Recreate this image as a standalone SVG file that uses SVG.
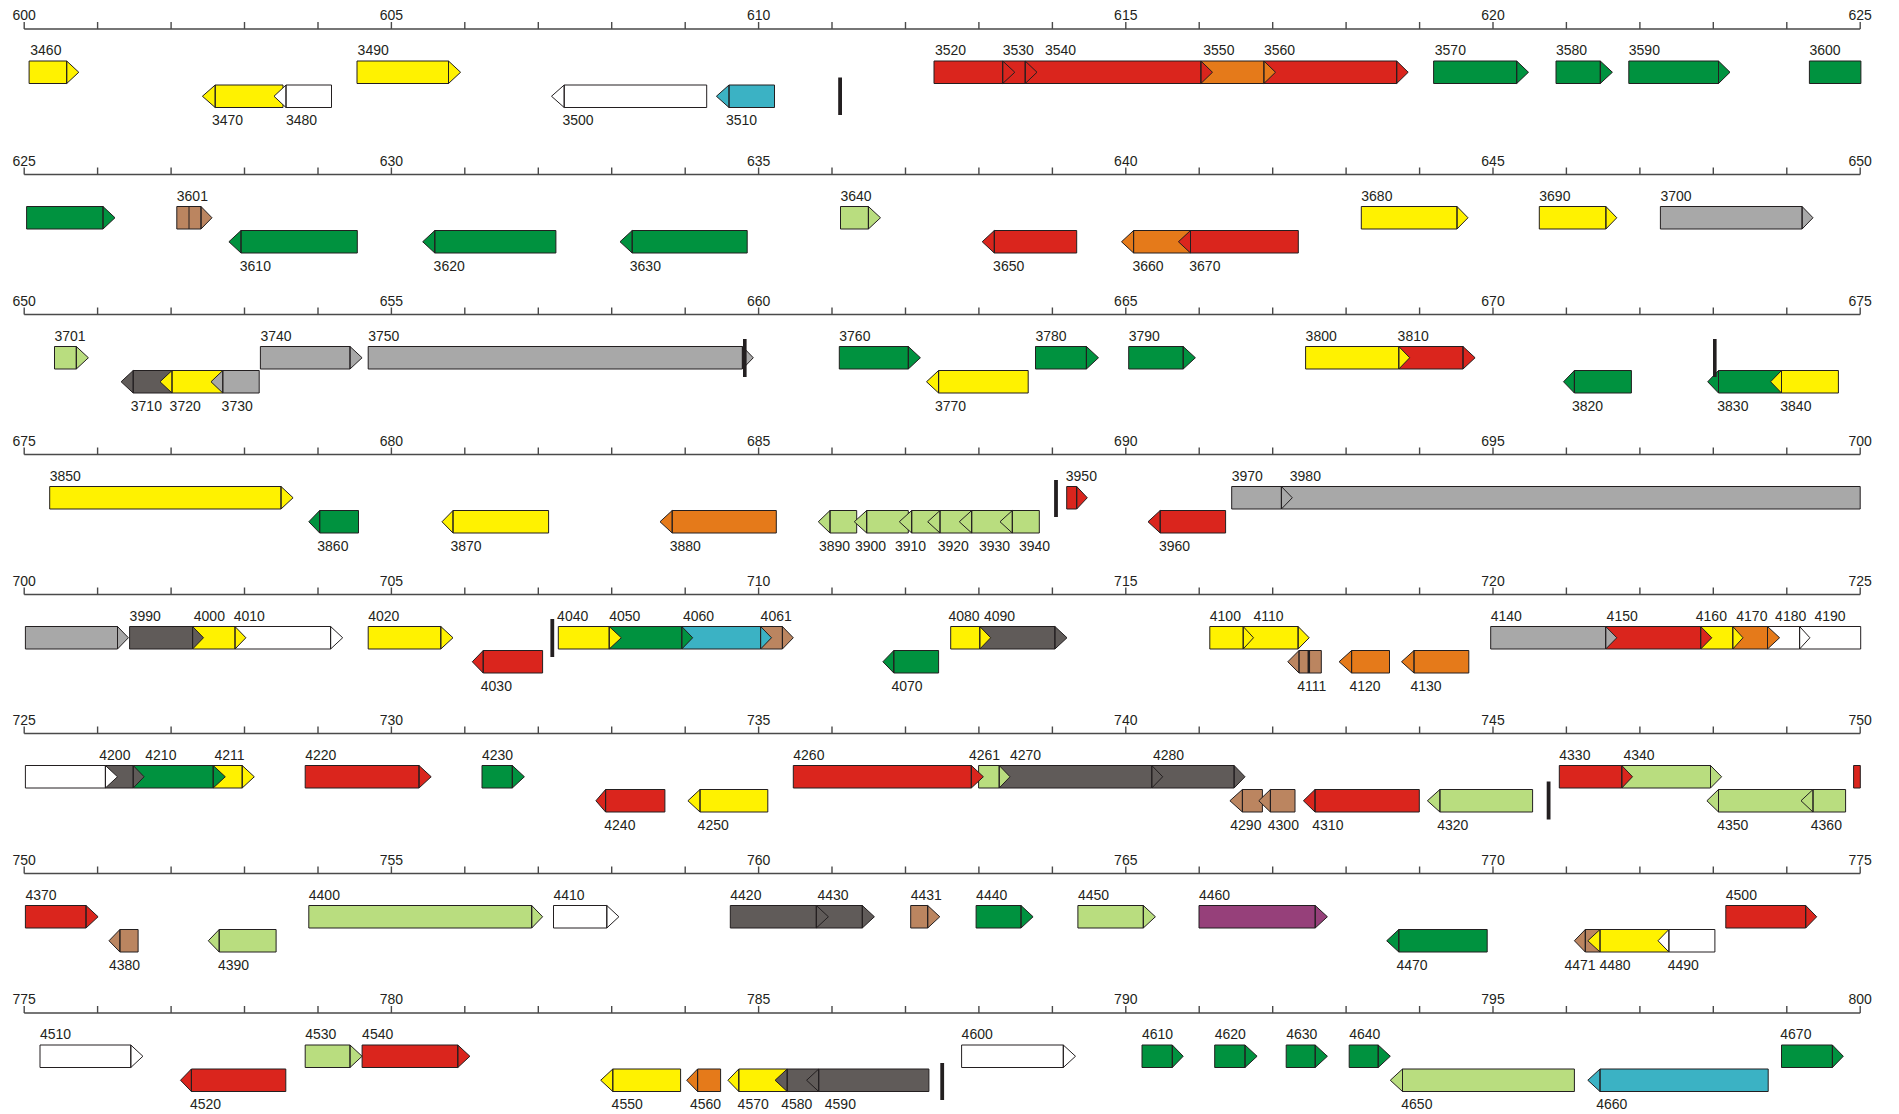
<svg xmlns="http://www.w3.org/2000/svg" width="1899" height="1114" viewBox="0 0 1899 1114">
<style>
text{font-family:"Liberation Sans",Arial,sans-serif;font-size:14px;fill:#231f20;stroke:none}
text.al{font-size:14px;text-anchor:middle}
path.g{stroke:#231f20;stroke-width:1;stroke-linejoin:miter}
.y{fill:#fff200}.r{fill:#da251d}.o{fill:#e57a1a}.gr{fill:#00923f}.lg{fill:#b9dd7f}.c{fill:#3bb2c4}.gy{fill:#a8a8a8}.dg{fill:#605b59}.b{fill:#bb8560}.p{fill:#96407a}.w{fill:#ffffff}
.bar{fill:#231f20}
</style>
<defs>
<path id="ax" fill="none" stroke="#4a4a4a" stroke-width="1.4" d="M24.2 0H1860.2M24.2 -7V0M97.6 -7V0M171.1 -7V0M244.5 -7V0M318 -7V0M391.4 -7V0M464.8 -7V0M538.3 -7V0M611.7 -7V0M685.2 -7V0M758.6 -7V0M832 -7V0M905.5 -7V0M978.9 -7V0M1052.4 -7V0M1125.8 -7V0M1199.2 -7V0M1272.7 -7V0M1346.1 -7V0M1419.6 -7V0M1493 -7V0M1566.4 -7V0M1639.9 -7V0M1713.3 -7V0M1786.8 -7V0M1860.2 -7V0"/>
</defs>
<rect width="1899" height="1114" fill="#ffffff"/>
<g id="axes">
<use href="#ax" y="29"/>
<text class="al" x="24.2" y="20">600</text><text class="al" x="391.4" y="20">605</text><text class="al" x="758.6" y="20">610</text><text class="al" x="1125.8" y="20">615</text><text class="al" x="1493" y="20">620</text><text class="al" x="1860.2" y="20">625</text>
<use href="#ax" y="174.5"/>
<text class="al" x="24.2" y="165.5">625</text><text class="al" x="391.4" y="165.5">630</text><text class="al" x="758.6" y="165.5">635</text><text class="al" x="1125.8" y="165.5">640</text><text class="al" x="1493" y="165.5">645</text><text class="al" x="1860.2" y="165.5">650</text>
<use href="#ax" y="314.5"/>
<text class="al" x="24.2" y="305.5">650</text><text class="al" x="391.4" y="305.5">655</text><text class="al" x="758.6" y="305.5">660</text><text class="al" x="1125.8" y="305.5">665</text><text class="al" x="1493" y="305.5">670</text><text class="al" x="1860.2" y="305.5">675</text>
<use href="#ax" y="454.5"/>
<text class="al" x="24.2" y="445.5">675</text><text class="al" x="391.4" y="445.5">680</text><text class="al" x="758.6" y="445.5">685</text><text class="al" x="1125.8" y="445.5">690</text><text class="al" x="1493" y="445.5">695</text><text class="al" x="1860.2" y="445.5">700</text>
<use href="#ax" y="594.5"/>
<text class="al" x="24.2" y="585.5">700</text><text class="al" x="391.4" y="585.5">705</text><text class="al" x="758.6" y="585.5">710</text><text class="al" x="1125.8" y="585.5">715</text><text class="al" x="1493" y="585.5">720</text><text class="al" x="1860.2" y="585.5">725</text>
<use href="#ax" y="733.5"/>
<text class="al" x="24.2" y="724.5">725</text><text class="al" x="391.4" y="724.5">730</text><text class="al" x="758.6" y="724.5">735</text><text class="al" x="1125.8" y="724.5">740</text><text class="al" x="1493" y="724.5">745</text><text class="al" x="1860.2" y="724.5">750</text>
<use href="#ax" y="873.5"/>
<text class="al" x="24.2" y="864.5">750</text><text class="al" x="391.4" y="864.5">755</text><text class="al" x="758.6" y="864.5">760</text><text class="al" x="1125.8" y="864.5">765</text><text class="al" x="1493" y="864.5">770</text><text class="al" x="1860.2" y="864.5">775</text>
<use href="#ax" y="1013"/>
<text class="al" x="24.2" y="1004">775</text><text class="al" x="391.4" y="1004">780</text><text class="al" x="758.6" y="1004">785</text><text class="al" x="1125.8" y="1004">790</text><text class="al" x="1493" y="1004">795</text><text class="al" x="1860.2" y="1004">800</text>
</g>
<g id="genes">
<!-- row 0 -->
<g id="g3600" class="gr"><path class="g" d="M1809.4 61H1860.9V83.5H1809.4Z"/><text x="1809.4" y="55">3600</text></g>
<g id="g3590" class="gr"><path class="g" d="M1628.8 61H1718.5V83.5H1628.8ZM1718.5 61L1730 72.25L1718.5 83.5Z"/><text x="1628.8" y="55">3590</text></g>
<g id="g3580" class="gr"><path class="g" d="M1556 61H1600.3V83.5H1556ZM1600.3 61L1612.4 72.25L1600.3 83.5Z"/><text x="1556" y="55">3580</text></g>
<g id="g3570" class="gr"><path class="g" d="M1433.6 61H1516.7V83.5H1433.6ZM1516.7 61L1528.5 72.25L1516.7 83.5Z"/><text x="1434.8" y="55">3570</text></g>
<g id="g3560" class="r"><path class="g" d="M1263.9 61H1396.7V83.5H1263.9ZM1396.7 61L1408.2 72.25L1396.7 83.5Z"/><text x="1264" y="55">3560</text></g>
<g id="g3550" class="o"><path class="g" d="M1200.9 61H1263.9V83.5H1200.9ZM1263.9 61L1275.5 72.25L1263.9 83.5Z"/><text x="1203.3" y="55">3550</text></g>
<g id="g3540" class="r"><path class="g" d="M1025.2 61H1200.9V83.5H1025.2ZM1200.9 61L1212.5 72.25L1200.9 83.5Z"/><text x="1045" y="55">3540</text></g>
<g id="g3530" class="r"><path class="g" d="M1002.7 61H1025.2V83.5H1002.7ZM1025.2 61L1037 72.25L1025.2 83.5Z"/><text x="1002.7" y="55">3530</text></g>
<g id="g3520" class="r"><path class="g" d="M934 61H1002.7V83.5H934ZM1002.7 61L1014.8 72.25L1002.7 83.5Z"/><text x="935" y="55">3520</text></g>
<g id="g3490" class="y"><path class="g" d="M357 61H448.5V83.5H357ZM448.5 61L460.6 72.25L448.5 83.5Z"/><text x="357.6" y="55">3490</text></g>
<g id="g3460" class="y"><path class="g" d="M29.1 61H66.7V83.5H29.1ZM66.7 61L78.8 72.25L66.7 83.5Z"/><text x="30.3" y="55">3460</text></g>
<g id="g3470" class="y"><path class="g" d="M215.2 85H283V107.5H215.2ZM215.2 85L202.4 96.25L215.2 107.5Z"/><text x="212" y="125">3470</text></g>
<g id="g3480" class="w"><path class="g" d="M286 85H331.5V107.5H286ZM286 85L274 96.25L286 107.5Z"/><text x="286" y="125">3480</text></g>
<g id="g3500" class="w"><path class="g" d="M564.2 85H706.7V107.5H564.2ZM564.2 85L551.5 96.25L564.2 107.5Z"/><text x="562.4" y="125">3500</text></g>
<g id="g3510" class="c"><path class="g" d="M729 85H774.5V107.5H729ZM729 85L716.4 96.25L729 107.5Z"/><text x="726" y="125">3510</text></g>
<!-- row 1 -->
<g id="g3700" class="gy"><path class="g" d="M1660.4 206.5H1802.1V229H1660.4ZM1802.1 206.5L1813 217.75L1802.1 229Z"/><text x="1660.4" y="200.5">3700</text></g>
<g id="g3690" class="y"><path class="g" d="M1539.3 206.5H1605.9V229H1539.3ZM1605.9 206.5L1616.8 217.75L1605.9 229Z"/><text x="1539.3" y="200.5">3690</text></g>
<g id="g3680" class="y"><path class="g" d="M1361.3 206.5H1457V229H1361.3ZM1457 206.5L1468 217.75L1457 229Z"/><text x="1361.3" y="200.5">3680</text></g>
<g id="g3640" class="lg"><path class="g" d="M840.5 206.5H868.4V229H840.5ZM868.4 206.5L880.5 217.75L868.4 229Z"/><text x="840.5" y="200.5">3640</text></g>
<g id="g3601" class="b"><path class="g" d="M176.8 206.5H201V229H176.8ZM201 206.5L212 217.75L201 229ZM189 206.5V229"/><text x="176.8" y="200.5">3601</text></g>
<g id="g_r1" class="gr"><path class="g" d="M26.6 206.5H103V229H26.6ZM103 206.5L115 217.75L103 229Z"/></g>
<g id="g3610" class="gr"><path class="g" d="M241 230.5H357.3V253H241ZM241 230.5L228.9 241.75L241 253Z"/><text x="239.8" y="270.5">3610</text></g>
<g id="g3620" class="gr"><path class="g" d="M434.8 230.5H555.9V253H434.8ZM434.8 230.5L422.7 241.75L434.8 253Z"/><text x="433.6" y="270.5">3620</text></g>
<g id="g3630" class="gr"><path class="g" d="M632.2 230.5H747.2V253H632.2ZM632.2 230.5L620 241.75L632.2 253Z"/><text x="629.8" y="270.5">3630</text></g>
<g id="g3650" class="r"><path class="g" d="M994.3 230.5H1076.7V253H994.3ZM994.3 230.5L982.2 241.75L994.3 253Z"/><text x="993.1" y="270.5">3650</text></g>
<g id="g3660" class="o"><path class="g" d="M1133.6 230.5H1190.5V253H1133.6ZM1133.6 230.5L1121.5 241.75L1133.6 253Z"/><text x="1132.4" y="270.5">3660</text></g>
<g id="g3670" class="r"><path class="g" d="M1190.5 230.5H1298.3V253H1190.5ZM1190.5 230.5L1178.4 241.75L1190.5 253Z"/><text x="1189.3" y="270.5">3670</text></g>
<!-- row 2 -->
<g id="g3810" class="r"><path class="g" d="M1398.8 346.5H1463V369H1398.8ZM1463 346.5L1475.1 357.75L1463 369Z"/><text x="1397.6" y="340.5">3810</text></g>
<g id="g3800" class="y"><path class="g" d="M1305.6 346.5H1398.8V369H1305.6ZM1398.8 346.5L1409.7 357.75L1398.8 369Z"/><text x="1305.6" y="340.5">3800</text></g>
<g id="g3790" class="gr"><path class="g" d="M1128.7 346.5H1183.2V369H1128.7ZM1183.2 346.5L1195.4 357.75L1183.2 369Z"/><text x="1128.7" y="340.5">3790</text></g>
<g id="g3780" class="gr"><path class="g" d="M1035.5 346.5H1086.4V369H1035.5ZM1086.4 346.5L1098.5 357.75L1086.4 369Z"/><text x="1035.5" y="340.5">3780</text></g>
<g id="g3760" class="gr"><path class="g" d="M839.3 346.5H908.3V369H839.3ZM908.3 346.5L920.4 357.75L908.3 369Z"/><text x="839.3" y="340.5">3760</text></g>
<g id="g3750" class="gy"><path class="g" d="M368.2 346.5H742.4V369H368.2ZM742.4 346.5L753.3 357.75L742.4 369Z"/><text x="368.2" y="340.5">3750</text></g>
<g id="g3740" class="gy"><path class="g" d="M260.4 346.5H350V369H260.4ZM350 346.5L362.1 357.75L350 369Z"/><text x="260.4" y="340.5">3740</text></g>
<g id="g3701" class="lg"><path class="g" d="M54.5 346.5H76.3V369H54.5ZM76.3 346.5L88.4 357.75L76.3 369Z"/><text x="54.5" y="340.5">3701</text></g>
<g id="g3710" class="dg"><path class="g" d="M133.2 370.5H172V393H133.2ZM133.2 370.5L121.1 381.75L133.2 393Z"/><text x="130.8" y="410.5">3710</text></g>
<g id="g3720" class="y"><path class="g" d="M172 370.5H222.8V393H172ZM172 370.5L160 381.75L172 393Z"/><text x="169.6" y="410.5">3720</text></g>
<g id="g3730" class="gy"><path class="g" d="M222.8 370.5H259.2V393H222.8ZM222.8 370.5L211 381.75L222.8 393Z"/><text x="221.6" y="410.5">3730</text></g>
<g id="g3770" class="y"><path class="g" d="M938.6 370.5H1028.2V393H938.6ZM938.6 370.5L926.5 381.75L938.6 393Z"/><text x="935" y="410.5">3770</text></g>
<g id="g3820" class="gr"><path class="g" d="M1574.4 370.5H1631.4V393H1574.4ZM1574.4 370.5L1563.5 381.75L1574.4 393Z"/><text x="1572" y="410.5">3820</text></g>
<g id="g3830" class="gr"><path class="g" d="M1718.5 370.5H1781.5V393H1718.5ZM1718.5 370.5L1707.7 381.75L1718.5 393Z"/><text x="1717.3" y="410.5">3830</text></g>
<g id="g3840" class="y"><path class="g" d="M1781.5 370.5H1838.4V393H1781.5ZM1781.5 370.5L1770.6 381.75L1781.5 393Z"/><text x="1780.3" y="410.5">3840</text></g>
<!-- row 3 -->
<g id="g3980" class="gy"><path class="g" d="M1281.4 486.5H1860.2V509H1281.4Z"/><text x="1289.8" y="480.5">3980</text></g>
<g id="g3970" class="gy"><path class="g" d="M1231.7 486.5H1281.4V509H1231.7ZM1281.4 486.5L1292.3 497.75L1281.4 509Z"/><text x="1231.7" y="480.5">3970</text></g>
<g id="g3950" class="r"><path class="g" d="M1066.7 486.5H1076.7V509H1066.7ZM1076.7 486.5L1087.3 497.75L1076.7 509Z"/><text x="1065.8" y="480.5">3950</text></g>
<g id="g3850" class="y"><path class="g" d="M49.7 486.5H281V509H49.7ZM281 486.5L293.1 497.75L281 509Z"/><text x="49.7" y="480.5">3850</text></g>
<g id="g3860" class="gr"><path class="g" d="M319.7 510.5H358.5V533H319.7ZM319.7 510.5L308.8 521.75L319.7 533Z"/><text x="317.3" y="550.5">3860</text></g>
<g id="g3870" class="y"><path class="g" d="M453 510.5H548.6V533H453ZM453 510.5L442 521.75L453 533Z"/><text x="450.5" y="550.5">3870</text></g>
<g id="g3880" class="o"><path class="g" d="M672.2 510.5H776.3V533H672.2ZM672.2 510.5L660 521.75L672.2 533Z"/><text x="669.7" y="550.5">3880</text></g>
<g id="g3890" class="lg"><path class="g" d="M830 510.5H856.7V533H830ZM830 510.5L818.3 521.75L830 533Z"/><text x="819" y="550.5">3890</text></g>
<g id="g3900" class="lg"><path class="g" d="M866.7 510.5H908.3V533H866.7ZM866.7 510.5L854.3 521.75L866.7 533Z"/><text x="855" y="550.5">3900</text></g>
<g id="g3910" class="lg"><path class="g" d="M911.7 510.5H940V533H911.7ZM911.7 510.5L899.3 521.75L911.7 533Z"/><text x="895" y="550.5">3910</text></g>
<g id="g3920" class="lg"><path class="g" d="M940 510.5H971.7V533H940ZM940 510.5L927.7 521.75L940 533Z"/><text x="937.7" y="550.5">3920</text></g>
<g id="g3930" class="lg"><path class="g" d="M971.7 510.5H1012.3V533H971.7ZM971.7 510.5L959.3 521.75L971.7 533Z"/><text x="979" y="550.5">3930</text></g>
<g id="g3940" class="lg"><path class="g" d="M1012.3 510.5H1039.3V533H1012.3ZM1012.3 510.5L1000 521.75L1012.3 533Z"/><text x="1019" y="550.5">3940</text></g>
<g id="g3960" class="r"><path class="g" d="M1160.2 510.5H1225.6V533H1160.2ZM1160.2 510.5L1148 521.75L1160.2 533Z"/><text x="1159" y="550.5">3960</text></g>
<!-- row 4 -->
<g id="g4190" class="w"><path class="g" d="M1799.6 626.5H1860.7V649H1799.6Z"/><text x="1814.4" y="620.5">4190</text></g>
<g id="g4180" class="w"><path class="g" d="M1767.5 626.5H1799.6V649H1767.5ZM1799.6 626.5L1809.9 637.75L1799.6 649Z"/><text x="1775.1" y="620.5">4180</text></g>
<g id="g4170" class="o"><path class="g" d="M1732.8 626.5H1767.5V649H1732.8ZM1767.5 626.5L1779.6 637.75L1767.5 649Z"/><text x="1736.3" y="620.5">4170</text></g>
<g id="g4160" class="y"><path class="g" d="M1700.7 626.5H1732.8V649H1700.7ZM1732.8 626.5L1743 637.75L1732.8 649Z"/><text x="1695.8" y="620.5">4160</text></g>
<g id="g4150" class="r"><path class="g" d="M1605.7 626.5H1700.7V649H1605.7ZM1700.7 626.5L1711.8 637.75L1700.7 649Z"/><text x="1606.6" y="620.5">4150</text></g>
<g id="g4140" class="gy"><path class="g" d="M1490.7 626.5H1605.7V649H1490.7ZM1605.7 626.5L1616.8 637.75L1605.7 649Z"/><text x="1490.7" y="620.5">4140</text></g>
<g id="g4110" class="y"><path class="g" d="M1243.2 626.5H1298.1V649H1243.2ZM1298.1 626.5L1309.2 637.75L1298.1 649Z"/><text x="1253.5" y="620.5">4110</text></g>
<g id="g4100" class="y"><path class="g" d="M1209.8 626.5H1243.2V649H1209.8ZM1243.2 626.5L1253.5 637.75L1243.2 649Z"/><text x="1209.8" y="620.5">4100</text></g>
<g id="g4090" class="dg"><path class="g" d="M979.8 626.5H1054.9V649H979.8ZM1054.9 626.5L1067 637.75L1054.9 649Z"/><text x="984" y="620.5">4090</text></g>
<g id="g4080" class="y"><path class="g" d="M950.7 626.5H979.8V649H950.7ZM979.8 626.5L990.7 637.75L979.8 649Z"/><text x="948.5" y="620.5">4080</text></g>
<g id="g4061" class="b"><path class="g" d="M760.6 626.5H782.4V649H760.6ZM782.4 626.5L793.3 637.75L782.4 649Z"/><text x="760.6" y="620.5">4061</text></g>
<g id="g4060" class="c"><path class="g" d="M681.8 626.5H760.6V649H681.8ZM760.6 626.5L771.5 637.75L760.6 649Z"/><text x="683" y="620.5">4060</text></g>
<g id="g4050" class="gr"><path class="g" d="M609.2 626.5H681.8V649H609.2ZM681.8 626.5L692.7 637.75L681.8 649Z"/><text x="609.2" y="620.5">4050</text></g>
<g id="g4040" class="y"><path class="g" d="M558.3 626.5H609.2V649H558.3ZM609.2 626.5L621.3 637.75L609.2 649Z"/><text x="557.1" y="620.5">4040</text></g>
<g id="g4020" class="y"><path class="g" d="M368.2 626.5H440.8V649H368.2ZM440.8 626.5L453 637.75L440.8 649Z"/><text x="368.2" y="620.5">4020</text></g>
<g id="g4010" class="w"><path class="g" d="M235 626.5H330.6V649H235ZM330.6 626.5L342.7 637.75L330.6 649Z"/><text x="233.7" y="620.5">4010</text></g>
<g id="g4000" class="y"><path class="g" d="M192.6 626.5H235V649H192.6ZM235 626.5L245.9 637.75L235 649Z"/><text x="193.8" y="620.5">4000</text></g>
<g id="g3990" class="dg"><path class="g" d="M129.6 626.5H192.6V649H129.6ZM192.6 626.5L203.5 637.75L192.6 649Z"/><text x="129.6" y="620.5">3990</text></g>
<g id="g_r4" class="gy"><path class="g" d="M25.4 626.5H117.5V649H25.4ZM117.5 626.5L128.4 637.75L117.5 649Z"/></g>
<g id="g4030" class="r"><path class="g" d="M483.2 650.5H542.6V673H483.2ZM483.2 650.5L472.3 661.75L483.2 673Z"/><text x="480.8" y="690.5">4030</text></g>
<g id="g4070" class="gr"><path class="g" d="M893.8 650.5H938.6V673H893.8ZM893.8 650.5L882.9 661.75L893.8 673Z"/><text x="891.4" y="690.5">4070</text></g>
<g id="g4111" class="b"><path class="g" d="M1299 650.5H1321.3V673H1299ZM1299 650.5L1287.8 661.75L1299 673Z"/><path d="M1308.8 650.5V673" stroke="#231f20" stroke-width="2.5"/><text x="1297.2" y="690.5">4111</text></g>
<g id="g4120" class="o"><path class="g" d="M1351.6 650.5H1389.5V673H1351.6ZM1351.6 650.5L1339.1 661.75L1351.6 673Z"/><text x="1349.4" y="690.5">4120</text></g>
<g id="g4130" class="o"><path class="g" d="M1414 650.5H1468.8V673H1414ZM1414 650.5L1401.5 661.75L1414 673Z"/><text x="1410.4" y="690.5">4130</text></g>
<!-- row 5 -->
<g id="g_r5b" class="r"><path class="g" d="M1853.6 765.5H1860.3V788H1853.6Z"/></g>
<g id="g4340" class="lg"><path class="g" d="M1621.8 765.5H1710.5V788H1621.8ZM1710.5 765.5L1721.6 776.75L1710.5 788Z"/><text x="1623.5" y="759.5">4340</text></g>
<g id="g4330" class="r"><path class="g" d="M1559.3 765.5H1621.8V788H1559.3ZM1621.8 765.5L1632.5 776.75L1621.8 788Z"/><text x="1559.3" y="759.5">4330</text></g>
<g id="g4280" class="dg"><path class="g" d="M1151.8 765.5H1234.1V788H1151.8ZM1234.1 765.5L1245 776.75L1234.1 788Z"/><text x="1153" y="759.5">4280</text></g>
<g id="g4270" class="dg"><path class="g" d="M999.2 765.5H1151.8V788H999.2ZM1151.8 765.5L1162.7 776.75L1151.8 788Z"/><text x="1010" y="759.5">4270</text></g>
<g id="g4261" class="lg"><path class="g" d="M978.6 765.5H999.2V788H978.6ZM999.2 765.5L1010 776.75L999.2 788Z"/><text x="968.9" y="759.5">4261</text></g>
<g id="g4260" class="r"><path class="g" d="M793.3 765.5H971.3V788H793.3ZM971.3 765.5L983.4 776.75L971.3 788Z"/><text x="793.3" y="759.5">4260</text></g>
<g id="g4230" class="gr"><path class="g" d="M482 765.5H512.3V788H482ZM512.3 765.5L524.4 776.75L512.3 788Z"/><text x="482" y="759.5">4230</text></g>
<g id="g4220" class="r"><path class="g" d="M305.2 765.5H419V788H305.2ZM419 765.5L431.2 776.75L419 788Z"/><text x="305.2" y="759.5">4220</text></g>
<g id="g4211" class="y"><path class="g" d="M213.2 765.5H242.2V788H213.2ZM242.2 765.5L254.3 776.75L242.2 788Z"/><text x="214.4" y="759.5">4211</text></g>
<g id="g4210" class="gr"><path class="g" d="M133.2 765.5H213.2V788H133.2ZM213.2 765.5L225.3 776.75L213.2 788Z"/><text x="145.3" y="759.5">4210</text></g>
<g id="g4200" class="dg"><path class="g" d="M105.4 765.5H133.2V788H105.4ZM133.2 765.5L144.1 776.75L133.2 788Z"/><text x="99.3" y="759.5">4200</text></g>
<g id="g_r5a" class="w"><path class="g" d="M25.4 765.5H105.4V788H25.4ZM105.4 765.5L117.5 776.75L105.4 788Z"/></g>
<g id="g4240" class="r"><path class="g" d="M605.6 789.5H664.9V812H605.6ZM605.6 789.5L595.9 800.75L605.6 812Z"/><text x="604.3" y="829.5">4240</text></g>
<g id="g4250" class="y"><path class="g" d="M700 789.5H767.8V812H700ZM700 789.5L687.9 800.75L700 812Z"/><text x="697.6" y="829.5">4250</text></g>
<g id="g4290" class="b"><path class="g" d="M1242.4 789.5H1262.4V812H1242.4ZM1242.4 789.5L1229.9 800.75L1242.4 812Z"/><text x="1230.3" y="829.5">4290</text></g>
<g id="g4300" class="b"><path class="g" d="M1270.4 789.5H1295V812H1270.4ZM1270.4 789.5L1258.8 800.75L1270.4 812Z"/><text x="1267.8" y="829.5">4300</text></g>
<g id="g4310" class="r"><path class="g" d="M1315 789.5H1419.3V812H1315ZM1315 789.5L1303.4 800.75L1315 812Z"/><text x="1312.3" y="829.5">4310</text></g>
<g id="g4320" class="lg"><path class="g" d="M1439.9 789.5H1532.6V812H1439.9ZM1439.9 789.5L1427.4 800.75L1439.9 812Z"/><text x="1437.2" y="829.5">4320</text></g>
<g id="g4350" class="lg"><path class="g" d="M1718.5 789.5H1813V812H1718.5ZM1718.5 789.5L1706.9 800.75L1718.5 812Z"/><text x="1717.2" y="829.5">4350</text></g>
<g id="g4360" class="lg"><path class="g" d="M1813 789.5H1845.6V812H1813ZM1813 789.5L1801 800.75L1813 812Z"/><text x="1810.8" y="829.5">4360</text></g>
<!-- row 6 -->
<g id="g4500" class="r"><path class="g" d="M1725.8 905.5H1805.7V928H1725.8ZM1805.7 905.5L1816.7 916.75L1805.7 928Z"/><text x="1725.8" y="899.5">4500</text></g>
<g id="g4460" class="p"><path class="g" d="M1199 905.5H1315.2V928H1199ZM1315.2 905.5L1327.4 916.75L1315.2 928Z"/><text x="1199" y="899.5">4460</text></g>
<g id="g4450" class="lg"><path class="g" d="M1077.9 905.5H1143.3V928H1077.9ZM1143.3 905.5L1155.4 916.75L1143.3 928Z"/><text x="1077.9" y="899.5">4450</text></g>
<g id="g4440" class="gr"><path class="g" d="M976.1 905.5H1021V928H976.1ZM1021 905.5L1033.1 916.75L1021 928Z"/><text x="976.1" y="899.5">4440</text></g>
<g id="g4431" class="b"><path class="g" d="M910.7 905.5H927.7V928H910.7ZM927.7 905.5L939.8 916.75L927.7 928Z"/><text x="910.7" y="899.5">4431</text></g>
<g id="g4430" class="dg"><path class="g" d="M816.3 905.5H862.3V928H816.3ZM862.3 905.5L874.4 916.75L862.3 928Z"/><text x="817.5" y="899.5">4430</text></g>
<g id="g4420" class="dg"><path class="g" d="M730.3 905.5H816.3V928H730.3ZM816.3 905.5L828.4 916.75L816.3 928Z"/><text x="730.3" y="899.5">4420</text></g>
<g id="g4410" class="w"><path class="g" d="M553.5 905.5H606.8V928H553.5ZM606.8 905.5L618.9 916.75L606.8 928Z"/><text x="553.5" y="899.5">4410</text></g>
<g id="g4400" class="lg"><path class="g" d="M308.8 905.5H531.7V928H308.8ZM531.7 905.5L542.6 916.75L531.7 928Z"/><text x="308.8" y="899.5">4400</text></g>
<g id="g4370" class="r"><path class="g" d="M25.4 905.5H86V928H25.4ZM86 905.5L98.1 916.75L86 928Z"/><text x="25.4" y="899.5">4370</text></g>
<g id="g4380" class="b"><path class="g" d="M119.9 929.5H138.1V952H119.9ZM119.9 929.5L109 940.75L119.9 952Z"/><text x="109" y="969.5">4380</text></g>
<g id="g4390" class="lg"><path class="g" d="M219.2 929.5H276.1V952H219.2ZM219.2 929.5L208.3 940.75L219.2 952Z"/><text x="218" y="969.5">4390</text></g>
<g id="g4470" class="gr"><path class="g" d="M1398.8 929.5H1487.2V952H1398.8ZM1398.8 929.5L1386.7 940.75L1398.8 952Z"/><text x="1396.4" y="969.5">4470</text></g>
<g id="g4471" class="b"><path class="g" d="M1585.3 929.5H1600V952H1585.3ZM1585.3 929.5L1574.4 940.75L1585.3 952Z"/><text x="1564.5" y="969.5">4471</text></g>
<g id="g4480" class="y"><path class="g" d="M1600 929.5H1668.9V952H1600ZM1600 929.5L1587.8 940.75L1600 952Z"/><text x="1599.5" y="969.5">4480</text></g>
<g id="g4490" class="w"><path class="g" d="M1668.9 929.5H1714.9V952H1668.9ZM1668.9 929.5L1658 940.75L1668.9 952Z"/><text x="1667.7" y="969.5">4490</text></g>
<!-- row 7 -->
<g id="g4670" class="gr"><path class="g" d="M1781.5 1045H1832.4V1067.5H1781.5ZM1832.4 1045L1843.3 1056.25L1832.4 1067.5Z"/><text x="1780.3" y="1039">4670</text></g>
<g id="g4640" class="gr"><path class="g" d="M1349.2 1045H1378.2V1067.5H1349.2ZM1378.2 1045L1390.3 1056.25L1378.2 1067.5Z"/><text x="1349.2" y="1039">4640</text></g>
<g id="g4630" class="gr"><path class="g" d="M1286.2 1045H1315.2V1067.5H1286.2ZM1315.2 1045L1327.4 1056.25L1315.2 1067.5Z"/><text x="1286.2" y="1039">4630</text></g>
<g id="g4620" class="gr"><path class="g" d="M1214.7 1045H1245V1067.5H1214.7ZM1245 1045L1257.1 1056.25L1245 1067.5Z"/><text x="1214.7" y="1039">4620</text></g>
<g id="g4610" class="gr"><path class="g" d="M1142 1045H1172.3V1067.5H1142ZM1172.3 1045L1183.2 1056.25L1172.3 1067.5Z"/><text x="1142" y="1039">4610</text></g>
<g id="g4600" class="w"><path class="g" d="M961.6 1045H1063.3V1067.5H961.6ZM1063.3 1045L1075.5 1056.25L1063.3 1067.5Z"/><text x="961.6" y="1039">4600</text></g>
<g id="g4540" class="r"><path class="g" d="M362.1 1045H457.8V1067.5H362.1ZM457.8 1045L469.9 1056.25L457.8 1067.5Z"/><text x="362.1" y="1039">4540</text></g>
<g id="g4530" class="lg"><path class="g" d="M305.2 1045H350V1067.5H305.2ZM350 1045L362.1 1056.25L350 1067.5Z"/><text x="305.2" y="1039">4530</text></g>
<g id="g4510" class="w"><path class="g" d="M40 1045H130.8V1067.5H40ZM130.8 1045L142.9 1056.25L130.8 1067.5Z"/><text x="40" y="1039">4510</text></g>
<g id="g4520" class="r"><path class="g" d="M191.4 1069H285.8V1091.5H191.4ZM191.4 1069L180.5 1080.25L191.4 1091.5Z"/><text x="190" y="1109">4520</text></g>
<g id="g4550" class="y"><path class="g" d="M612.8 1069H680.6V1091.5H612.8ZM612.8 1069L600.7 1080.25L612.8 1091.5Z"/><text x="611.6" y="1109">4550</text></g>
<g id="g4560" class="o"><path class="g" d="M697.6 1069H720.6V1091.5H697.6ZM697.6 1069L686.7 1080.25L697.6 1091.5Z"/><text x="690" y="1109">4560</text></g>
<g id="g4570" class="y"><path class="g" d="M738.8 1069H787.2V1091.5H738.8ZM738.8 1069L727.9 1080.25L738.8 1091.5Z"/><text x="737.6" y="1109">4570</text></g>
<g id="g4580" class="dg"><path class="g" d="M787.2 1069H818.7V1091.5H787.2ZM787.2 1069L775.1 1080.25L787.2 1091.5Z"/><text x="781.2" y="1109">4580</text></g>
<g id="g4590" class="dg"><path class="g" d="M818.7 1069H928.9V1091.5H818.7ZM818.7 1069L806.6 1080.25L818.7 1091.5Z"/><text x="824.8" y="1109">4590</text></g>
<g id="g4650" class="lg"><path class="g" d="M1402.5 1069H1574.4V1091.5H1402.5ZM1402.5 1069L1390.3 1080.25L1402.5 1091.5Z"/><text x="1401.3" y="1109">4650</text></g>
<g id="g4660" class="c"><path class="g" d="M1600 1069H1768.2V1091.5H1600ZM1600 1069L1587.8 1080.25L1600 1091.5Z"/><text x="1596.2" y="1109">4660</text></g>
</g>
<g id="breaks">
<rect class="bar" x="838.2" y="77.5" width="3.8" height="37.5"/>
<rect class="bar" x="743" y="339" width="3.6" height="38"/>
<rect class="bar" x="1713" y="339" width="3.6" height="38"/>
<rect class="bar" x="1054.1" y="480" width="3.8" height="37"/>
<rect class="bar" x="550.4" y="619" width="3.8" height="38"/>
<rect class="bar" x="1546.7" y="781.5" width="3.8" height="38"/>
<rect class="bar" x="940.3" y="1063" width="3.8" height="37"/>
</g>
</svg>
